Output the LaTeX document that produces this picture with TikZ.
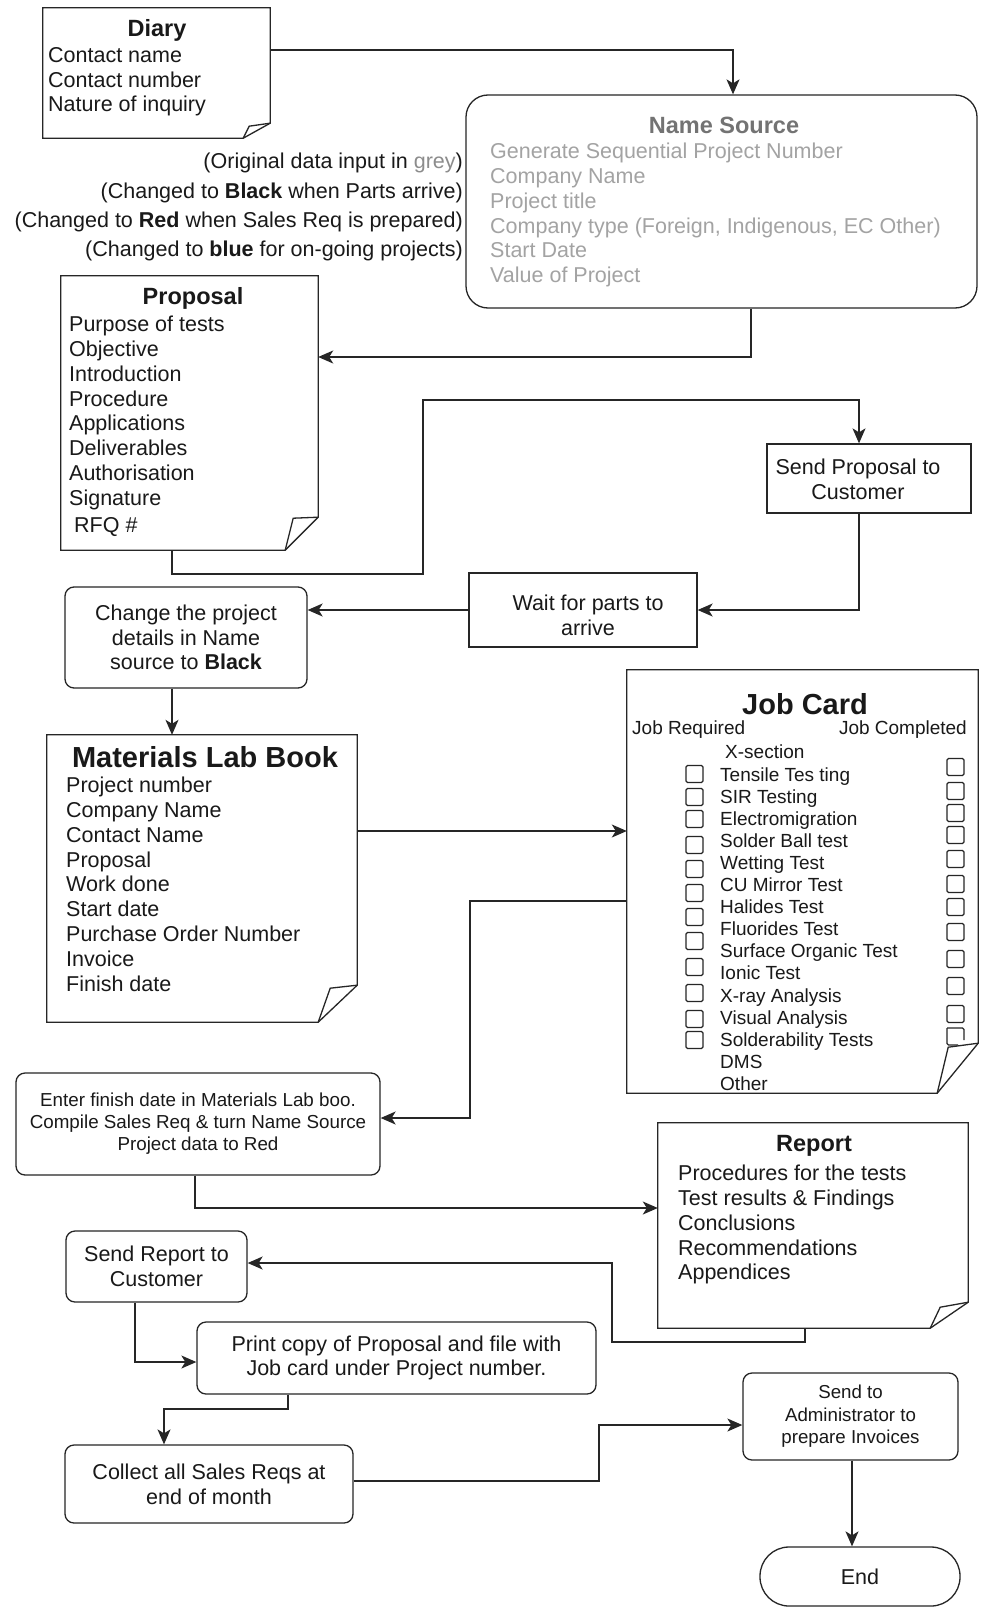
\documentclass[tikz,border=0pt]{standalone}
\usepackage{fontspec}
\setmainfont{Liberation Sans}
\usetikzlibrary{arrows.meta}

\newcommand\fbody{\fontsize{21.5}{24.8}\selectfont}
\newcommand\ftitle{\fontsize{23.5}{28}\selectfont\bfseries}
\newcommand\fbig{\fontsize{29}{34}\selectfont\bfseries}
\newcommand\fsmall{\fontsize{18.8}{22}\selectfont}
\newcommand\fcard{\fontsize{19}{22.1}\selectfont}

\tikzset{
  outline/.style={draw=black!85, line width=1.3pt, line join=miter},
  box/.style={outline, inner sep=0pt, align=center, font=\fbody, text=black!90},
  rbox/.style={box, rounded corners=9pt},
  page/.style={inner sep=0pt},
  link/.style={draw=black!85, line width=1.3pt},
  arr/.style={link, -{Stealth[length=15pt,width=13pt,inset=4pt]}},
  tick/.style={draw=black!85, line width=1.1pt, rounded corners=1.5pt},
  list/.style={inner sep=0pt, align=left, anchor=north west, text=black!90},
  heading/.style={inner sep=0pt, text=black!90},
  label text/.style={inner sep=0pt, align=center, font=\fbody, text=black!90},
}

% sheet of paper with a folded lower right corner:
% #1 node, #2 cut along the bottom, #3 cut along the right side, #4/#5 tip of the flap
\newcommand\foldpage[5]{%
  \draw[outline] (#1.north west) -- (#1.north east) -- ([yshift=#3]#1.south east)
    -- ([xshift=-#2]#1.south east) -- (#1.south west) -- cycle;
  \draw[outline] ([xshift=-#2]#1.south east) -- ([xshift=-#4,yshift=#5]#1.south east)
    -- ([yshift=#3]#1.south east);
}

\begin{document}
\begin{tikzpicture}[x=1pt, y=-1pt]
\useasboundingbox (0,0) rectangle (983,1608);
\fill[white] (0,0) rectangle (983,1608);

% ---------- Diary ----------
\node[page, minimum width=227pt, minimum height=130pt] (diary) at (156.5,73) {};
\foldpage{diary}{27pt}{15pt}{21pt}{12pt}
\node[heading, font=\ftitle] (diaryT) at (157,30) {Diary};
\node[list, font=\fbody] (diaryB) at (48,47) {Contact name\\Contact number\\Nature of inquiry};

% ---------- Name Source ----------
\node[outline, rounded corners=22pt, inner sep=0pt, minimum width=511pt, minimum height=213pt] (namesrc) at (721.5,201.5) {};
\node[heading, font=\ftitle, text=black!55] (namesrcT) at (724,125) {Name Source};
\node[list, font=\fbody, text=black!36] (namesrcB) at (490,143) {Generate Sequential Project Number\\Company Name\\Project title\\Company type (Foreign, Indigenous, EC Other)\\Start Date\\Value of Project};

% ---------- colour legend ----------
\node[list, anchor=north east, align=right, font={\fontsize{21.5}{29.3}\selectfont}] (legend) at (463,153)
  {(Original data input in {\color{black!45}grey})\\
   (Changed to \textbf{Black} when Parts arrive)\\
   (Changed to \textbf{Red} when Sales Req is prepared)\\
   (Changed to \textbf{blue} for on-going projects)};

% ---------- Proposal ----------
\node[page, minimum width=257pt, minimum height=274pt] (proposal) at (189.5,413) {};
\foldpage{proposal}{33pt}{33pt}{25pt}{32pt}
\node[heading, font=\ftitle] (proposalT) at (193,298) {Proposal};
\node[list, font=\fbody] (proposalB) at (69,316) {Purpose of tests\\Objective\\Introduction\\Procedure\\Applications\\Deliverables\\Authorisation\\Signature\\[2pt]\hspace*{5pt}RFQ \#};

% ---------- process boxes ----------
\node[box, minimum width=204pt, minimum height=69pt] (sendprop) at (869,478.5) {};
\node[label text] (sendpropT) at (858,479) {Send Proposal to\\Customer};
\node[box, minimum width=228pt, minimum height=74pt] (wait) at (583,610) {};
\node[label text] (waitT) at (588,615) {Wait for parts to\\arrive};
\node[rbox, minimum width=242pt, minimum height=101pt] (change) at (186,637.5) {Change the project\\details in Name\\source to \textbf{Black}};

% ---------- Materials Lab Book ----------
\node[page, minimum width=310pt, minimum height=287pt] (materials) at (202,878.5) {};
\foldpage{materials}{39pt}{37pt}{27pt}{34pt}
\node[heading, font=\fbig] (materialsT) at (205,757) {Materials Lab Book};
\node[list, font=\fbody] (materialsB) at (66,777) {Project number\\Company Name\\Contact Name\\Proposal\\Work done\\Start date\\Purchase Order Number\\Invoice\\Finish date};

% ---------- Job Card ----------
\node[page, minimum width=351pt, minimum height=423pt] (jobcard) at (802.5,881.5) {};
\node[heading, font=\fbig] (jobcardT) at (805,704) {Job Card};
\node[heading, font=\fcard, anchor=west] (jobreq) at (632,730) {Job Required};
\node[heading, font=\fcard, anchor=east] (jobdone) at (967,730) {Job Completed};
\node[list, font=\fcard] (jobitems) at (720,745) {\hspace*{5pt}X-section\\Tensile Tes ting\\SIR Testing\\Electromigration\\Solder Ball test\\Wetting Test\\CU Mirror Test\\Halides Test\\Fluorides Test\\Surface Organic Test\\Ionic Test\\X-ray Analysis\\Visual Analysis\\Solderability Tests\\DMS\\Other};
\foreach \y in {774,797,819,845,869,893,917,941,967,993,1019,1040}
  \draw[tick] (686,\y-8.5) rectangle ++(17,17);
\foreach \y in {767,791,813,835,859,884,907,932,959,986,1014}
  \draw[tick] (947,\y-8.5) rectangle ++(17,17);
\draw[tick] (947,1028) -- (947,1045) -- (958,1045);
\draw[tick] (947,1028) -- (964,1028) -- (964,1040);
\foldpage{jobcard}{41pt}{50pt}{30pt}{46pt}

% ---------- lower process boxes ----------
\node[rbox, font=\fsmall, minimum width=364pt, minimum height=102pt] (enter) at (198,1124)
  {Enter finish date in Materials Lab boo.\\Compile Sales Req \& turn Name Source\\Project data to Red};

\node[page, minimum width=310pt, minimum height=205pt] (report) at (813,1225.5) {};
\foldpage{report}{38pt}{26pt}{28pt}{21pt}
\node[heading, font=\ftitle] (reportT) at (814,1146) {Report};
\node[list, font=\fbody] (reportB) at (678,1165) {Procedures for the tests\\Test results \& Findings\\Conclusions\\Recommendations\\Appendices};

\node[rbox, minimum width=181pt, minimum height=71pt] (sendrep) at (156.5,1266.5) {Send Report to\\Customer};
\node[rbox, minimum width=399pt, minimum height=72pt] (print) at (396.5,1358) {Print copy of Proposal and file with\\Job card under Project number.};
\node[rbox, minimum width=288pt, minimum height=78pt] (collect) at (209,1484) {Collect all Sales Reqs at\\end of month};
\node[rbox, font={\fontsize{18.7}{22.5}\selectfont}, minimum width=215pt, minimum height=87pt] (admin) at (850.5,1416.5) {Send to\\Administrator to\\prepare Invoices};
\node[box, rounded corners=29pt, minimum width=200pt, minimum height=59pt] (endn) at (860,1576.5) {End};

% ---------- connector bends ----------
\coordinate (k1) at (733,50);
\coordinate (k2) at (751,357);
\coordinate (k3a) at (172,574);
\coordinate (k3b) at (423,574);
\coordinate (k3c) at (423,400);
\coordinate (k3d) at (859,400);
\coordinate (k4) at (859,610);
\coordinate (k6) at (500,831);
\coordinate (k7a) at (470,901);
\coordinate (k7b) at (470,1118);
\coordinate (k8) at (195,1208);
\coordinate (k9a) at (805,1342);
\coordinate (k9b) at (612,1342);
\coordinate (k9c) at (612,1263);
\coordinate (k10) at (135,1362);
\coordinate (k11a) at (288,1409);
\coordinate (k11b) at (164,1409);
\coordinate (k12a) at (599,1481);
\coordinate (k12b) at (599,1425);
\coordinate (k13) at (852,1500);

% ---------- connectors ----------
\draw[arr] (diary.east |- k1) -- (k1) -- (namesrc.north -| k1);
\draw[arr] (namesrc.south -| k2) -- (k2) -- (proposal.east |- k2);
\draw[arr] (proposal.south -| k3a) -- (k3a) -- (k3b) -- (k3c) -- (k3d) -- (sendprop.north -| k3d);
\draw[arr] (sendprop.south -| k4) -- (k4) -- (wait.east |- k4);
\draw[arr] (wait.west) -- (change.east |- wait.west);
\draw[arr] (change.south -| k3a) -- (materials.north -| k3a);
\draw[arr] (materials.east |- k6) -- (jobcard.west |- k6);
\draw[arr] (jobcard.west |- k7a) -- (k7a) -- (k7b) -- (enter.east |- k7b);
\draw[arr] (enter.south -| k8) -- (k8) -- (report.west |- k8);
\draw[arr] (report.south -| k9a) -- (k9a) -- (k9b) -- (k9c) -- (sendrep.east |- k9c);
\draw[arr] (sendrep.south -| k10) -- (k10) -- (print.west |- k10);
\draw[arr] (print.south -| k11a) -- (k11a) -- (k11b) -- (collect.north -| k11b);
\draw[arr] (collect.east |- k12a) -- (k12a) -- (k12b) -- (admin.west |- k12b);
\draw[arr] (admin.south -| k13) -- (endn.north -| k13);
\end{tikzpicture}
\end{document}
